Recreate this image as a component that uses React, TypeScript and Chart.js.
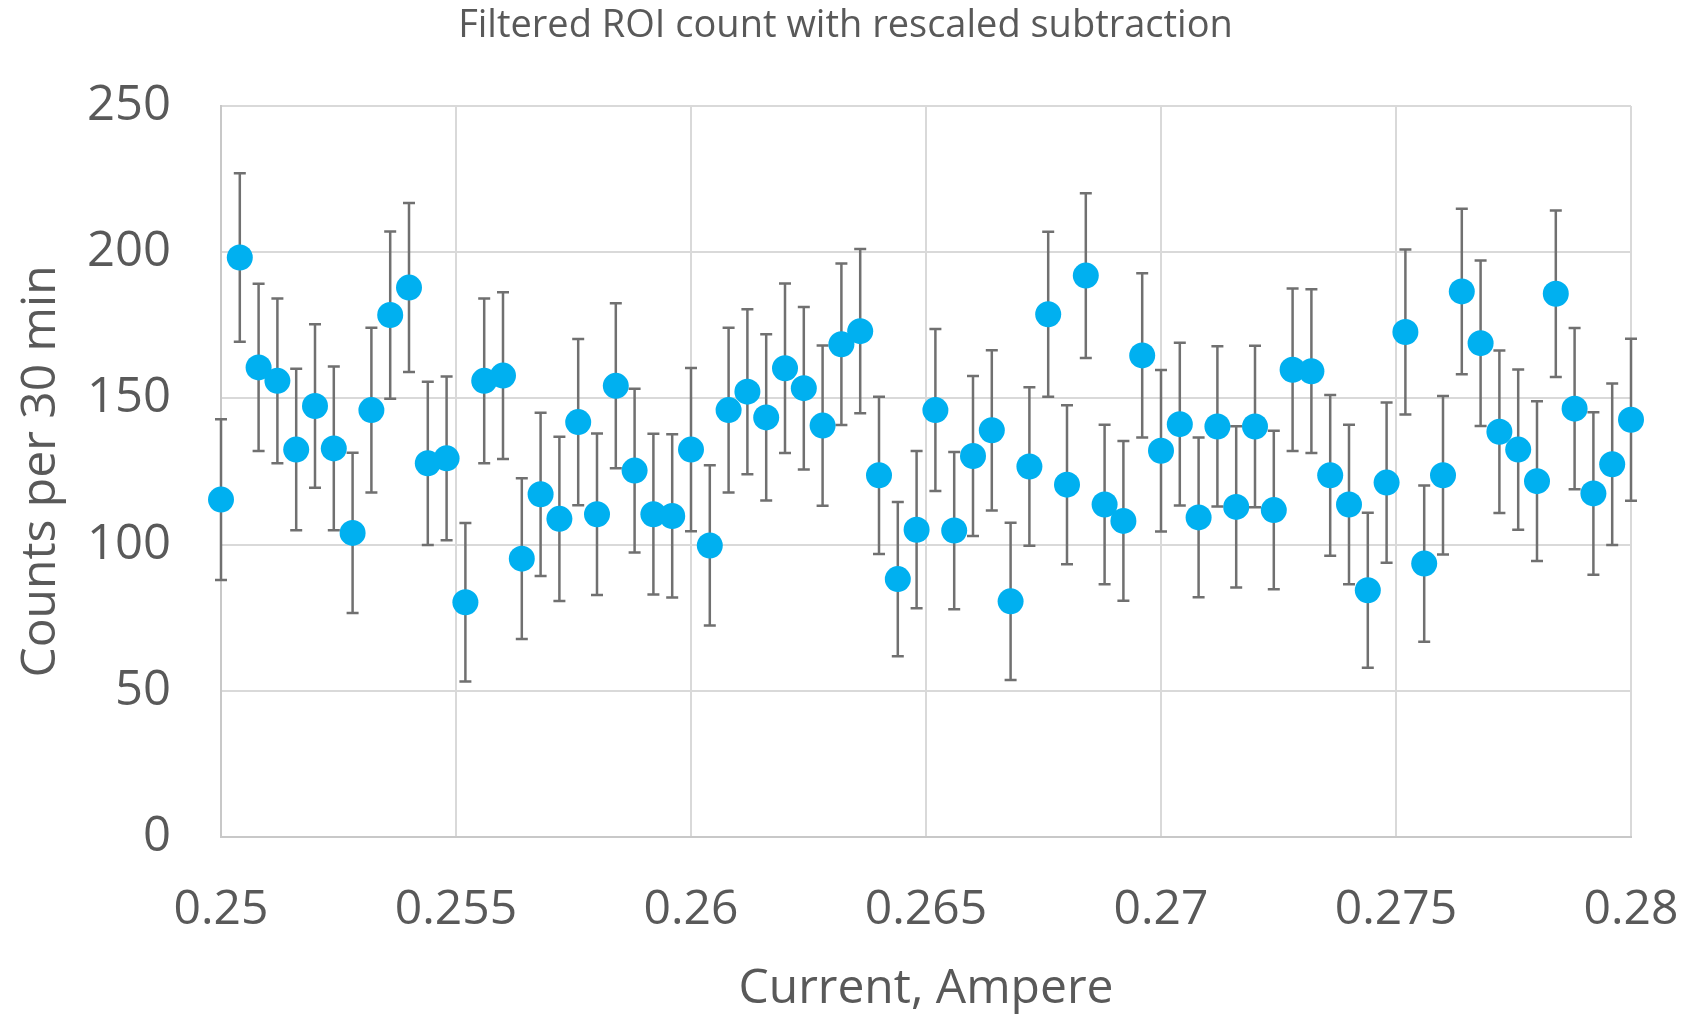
import React, { useEffect, useRef } from "react";
import { Chart, registerables } from "chart.js";

Chart.register(...registerables);

const TITLE = "Filtered ROI count with rescaled subtraction";
const X_TITLE = "Current, Ampere";
const Y_TITLE = "Counts per 30 min";

const currents = [
  0.25, 0.2504, 0.2508, 0.2512, 0.2516, 0.252, 0.2524, 0.2528, 0.2532, 0.2536,
  0.254, 0.2544, 0.2548, 0.2552, 0.2556, 0.256, 0.2564, 0.2568, 0.2572, 0.2576,
  0.258, 0.2584, 0.2588, 0.2592, 0.2596, 0.26, 0.2604, 0.2608, 0.2612, 0.2616,
  0.262, 0.2624, 0.2628, 0.2632, 0.2636, 0.264, 0.2644, 0.2648, 0.2652, 0.2656,
  0.266, 0.2664, 0.2668, 0.2672, 0.2676, 0.268, 0.2684, 0.2688, 0.2692, 0.2696,
  0.27, 0.2704, 0.2708, 0.2712, 0.2716, 0.272, 0.2724, 0.2728, 0.2732, 0.2736,
  0.274, 0.2744, 0.2748, 0.2752, 0.2756, 0.276, 0.2764, 0.2768, 0.2772, 0.2776,
  0.278, 0.2784, 0.2788, 0.2792, 0.2796, 0.28,
];

const counts = [
  115.4, 198.2, 160.6, 156, 132.5, 147.4, 132.9, 104, 146, 178.5,
  187.9, 127.8, 129.5, 80.3, 156, 157.8, 95.2, 117.2, 108.8, 141.9,
  110.4, 154.3, 125.3, 110.4, 109.8, 132.5, 99.7, 146, 152.3, 143.5,
  160.3, 153.5, 140.7, 168.5, 173, 123.7, 88.2, 105.1, 146, 104.8,
  130.3, 139.1, 80.6, 126.7, 178.8, 120.5, 192, 113.7, 108.1, 164.7,
  132.1, 141.2, 109.3, 140.4, 112.9, 140.4, 111.8, 159.8, 159.3, 123.7,
  113.7, 84.4, 121.2, 172.7, 93.5, 123.7, 186.6, 168.9, 138.6, 132.5,
  121.7, 185.8, 146.5, 117.5, 127.5, 142.7,
];

const errors = [
  27.5, 28.8, 28.6, 28.2, 27.6, 28, 28, 27.4, 28.2, 28.6,
  28.9, 27.9, 28, 27.1, 28.2, 28.5, 27.5, 27.9, 28.1, 28.4,
  27.6, 28.2, 28, 27.5, 27.9, 27.9, 27.4, 28.2, 28.2, 28.4,
  29, 27.8, 27.4, 27.6, 28.1, 26.9, 26.4, 26.9, 27.7, 26.9,
  27.4, 27.4, 26.9, 27.1, 28.2, 27.2, 28.2, 27.3, 27.3, 28.1,
  27.6, 27.8, 27.3, 27.4, 27.6, 27.6, 27.1, 27.8, 28, 27.5,
  27.3, 26.5, 27.4, 28.2, 26.7, 27.1, 28.3, 28.3, 27.8, 27.4,
  27.3, 28.5, 27.6, 27.8, 27.6, 27.7,
];

const X_MIN = 0.25;
const X_MAX = 0.28;
const X_STEP = 0.005;
const Y_MIN = 0;
const Y_MAX = 250;
const Y_STEP = 50;

const FONT = "'Open Sans', 'Noto Sans', sans-serif";
const TEXT_COLOR = "#595959";

const errorBarPlugin = {
  id: "errorBars",
  beforeDatasetsDraw(chart: any) {
    const { ctx, scales } = chart;
    const xs = scales.x;
    const ys = scales.y;
    ctx.save();
    ctx.strokeStyle = "#707070";
    ctx.lineWidth = 2.5;
    const cap = 6;
    for (let i = 0; i < counts.length; i++) {
      const px = xs.getPixelForValue(currents[i]);
      const top = ys.getPixelForValue(counts[i] + errors[i]);
      const bot = ys.getPixelForValue(counts[i] - errors[i]);
      ctx.beginPath();
      ctx.moveTo(px, top);
      ctx.lineTo(px, bot);
      ctx.moveTo(px - cap, top);
      ctx.lineTo(px + cap, top);
      ctx.moveTo(px - cap, bot);
      ctx.lineTo(px + cap, bot);
      ctx.stroke();
    }
    ctx.restore();
  },
};

export default function App() {
  const canvasRef = useRef<HTMLCanvasElement | null>(null);

  useEffect(() => {
    if (!canvasRef.current) return;
    const chart = new Chart(canvasRef.current, {
      type: "scatter",
      data: {
        datasets: [
          {
            label: "Counts",
            data: currents.map((x, i) => ({ x, y: counts[i] })),
            backgroundColor: "#00B0F0",
            borderWidth: 0,
            pointRadius: 13,
            pointHoverRadius: 13,
            clip: false as any,
          },
        ],
      },
      options: {
        animation: false,
        responsive: false,
        maintainAspectRatio: false,
        events: [],
        layout: { padding: 0 },
        plugins: {
          legend: { display: false },
          tooltip: { enabled: false },
          title: {
            display: true,
            text: TITLE,
            color: TEXT_COLOR,
            font: { family: FONT, size: 38, weight: "normal", lineHeight: 1.2 },
            padding: { top: 3, bottom: 57.4 },
          },
        },
        scales: {
          x: {
            type: "linear",
            min: X_MIN,
            max: X_MAX,
            afterFit(scale: any) {
              scale.height = 181;
              scale.paddingLeft = 0;
              scale.paddingRight = 60;
            },
            ticks: {
              stepSize: X_STEP,
              color: TEXT_COLOR,
              padding: 45,
              font: { family: FONT, size: 48, lineHeight: 1.2 },
              maxRotation: 0,
              callback: (v: any) => String(Number(Number(v).toFixed(4))),
            },
            grid: { color: "#d9d9d9", lineWidth: 2, drawTicks: false },
            border: { color: "#c8c8c8", width: 2 },
            title: {
              display: true,
              text: X_TITLE,
              color: TEXT_COLOR,
              font: { family: FONT, size: 48, lineHeight: 1.2 },
              padding: { top: 0, bottom: 0 },
            },
          },
          y: {
            type: "linear",
            min: Y_MIN,
            max: Y_MAX,
            afterFit(scale: any) {
              scale.width = 221;
              scale.paddingTop = 0;
              scale.paddingBottom = 0;
            },
            ticks: {
              stepSize: Y_STEP,
              color: TEXT_COLOR,
              padding: 50,
              font: { family: FONT, size: 49, lineHeight: 1.2 },
            },
            grid: { color: "#d9d9d9", lineWidth: 2, drawTicks: false },
            border: { color: "#c8c8c8", width: 2 },
            title: {
              display: true,
              text: Y_TITLE,
              color: TEXT_COLOR,
              font: { family: FONT, size: 48, lineHeight: 1.2 },
              padding: { top: 13, bottom: 0 },
            },
          },
        },
      },
      plugins: [errorBarPlugin],
    });
    return () => chart.destroy();
  }, []);

  return (
    <div
      style={{
        position: "fixed",
        left: 0,
        top: 0,
        width: 1691,
        height: 1018,
        background: "#ffffff",
      }}
    >
      <canvas ref={canvasRef} width={1691} height={1018} style={{ width: 1691, height: 1018 }} />
    </div>
  );
}
